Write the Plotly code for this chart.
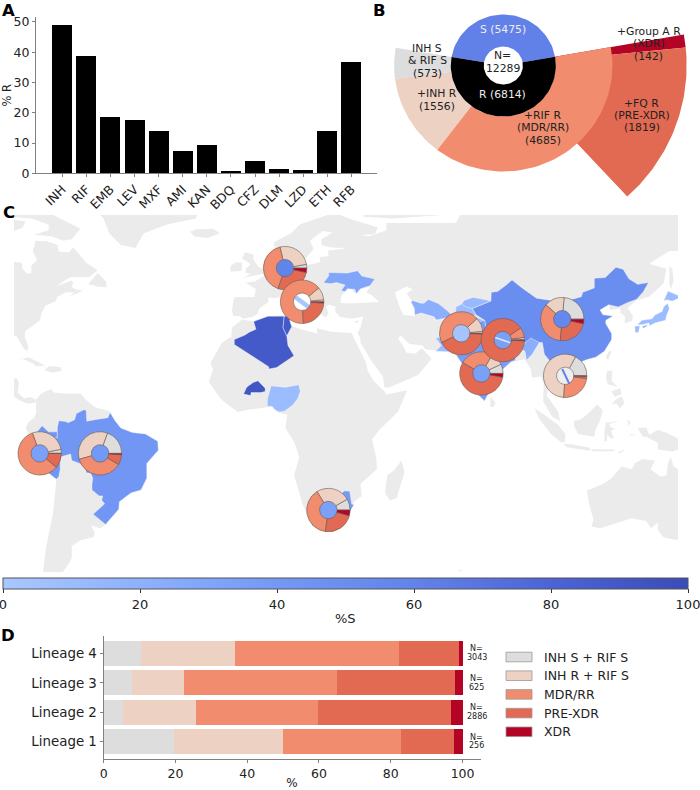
"""TB drug resistance overview: bars, sunburst, world map with donuts, lineage bars."""

import numpy as np
import plotly.graph_objects as go

FONT = "DejaVu Sans"
TEXT = "#222222"
AXIS = "#808080"
W, H = 700, 790

# panel A
drugs = ["INH", "RIF", "EMB", "LEV", "MXF", "AMI", "KAN", "BDQ", "CFZ", "DLM", "LZD", "ETH", "RFB"]
pct_r = [49, 38.7, 18.5, 17.5, 14, 7.3, 9.2, 0.9, 4.2, 1.5, 1.2, 14.1, 36.7]

# panel B
n_total = 12289
n_s, n_r = 5475, 6814
n_ring = [573, 1556, 4685]
n_pre, n_xdr = 1819, 142

# shared categories
classes = ["INH S + RIF S", "INH R + RIF S", "MDR/RR", "PRE-XDR", "XDR"]
class_colors = ["#dddddd", "#edd1c2", "#f18c6e", "#e26952", "#b40426"]

# panel D
lineages = ["Lineage 1", "Lineage 2", "Lineage 3", "Lineage 4"]
lineage_n = ["256", "2886", "625", "3043"]
lineage_pct = [
    [19.5, 5.5, 7.8, 10.4],
    [30.5, 20.2, 14.6, 26.2],
    [32.8, 34.0, 42.6, 45.7],
    [14.8, 37.2, 33.0, 16.7],
    [2.4, 3.1, 2.0, 1.0],
]

# panel C, colour scale for %S
scale_stops = [
    [0.0, "#a9c7ff"], [0.2, "#8eb1fe"], [0.4, "#7399f5"],
    [0.6, "#6283ea"], [0.8, "#4c64d5"], [1.0, "#3a4cb8"],
]

# land outlines, lon/lat
north_america = [(-100, 72), (-95, 72), (-92, 70), (-88, 68.5), (-85, 69.5), (-81, 69), (-82, 67), (-87, 65), (-90, 63.5), (-94, 61), (-94.5, 58.8), (-92.5, 57), (-88, 56.5), (-85, 55.3), (-82.3, 55), (-82, 53), (-80.5, 51.3), (-79, 51.5), (-79, 54), (-77, 56), (-78.5, 58.8), (-77.5, 62.5), (-73.5, 62.3), (-70, 61), (-69.5, 58.8), (-66, 58.5), (-64.5, 60.3), (-62, 57.5), (-60, 55), (-56, 52.5), (-59, 50.2), (-65, 50.2), (-67, 49.3), (-70, 47.2), (-65, 49), (-64.5, 48), (-65, 47), (-64, 46), (-61, 45.5), (-66, 43.5), (-64, 44.9), (-67, 45), (-70, 43.5), (-70.5, 42), (-74, 40.5), (-75.5, 38), (-76, 35.5), (-78, 34), (-81, 32), (-81.3, 30), (-80, 26.5), (-80.5, 25), (-81.8, 26), (-82.8, 28), (-84, 30), (-86, 30.3), (-89, 30.2), (-95, 25), (-95, 18), (-88, 18), (-88.5, 16), (-84, 15.8), (-83.3, 14.5), (-83.7, 11), (-81.5, 9), (-79.5, 9.5), (-77.3, 8.6), (-78, 7.5), (-80.5, 7.3), (-83, 8.3), (-85.5, 10), (-95, 13)]
baffin = [(-95, 75), (-80, 73.7), (-72, 71.5), (-67, 69), (-62, 66.5), (-65, 63), (-68, 62.5), (-72, 64), (-78, 64.5), (-73, 66), (-73, 68), (-79, 70), (-85, 70.5), (-95, 72)]
newfoundland = [(-59.3, 47.7), (-56, 51.5), (-53, 48.5), (-53, 46.7), (-56, 47)]
greenland = [(-73, 78), (-60, 82), (-30, 83), (-20, 75), (-22, 70), (-32, 68), (-40, 65), (-43, 60), (-48, 61), (-52, 65), (-54, 70), (-60, 76)]
iceland = [(-24, 65.5), (-22, 66.4), (-16, 66.5), (-13.7, 65), (-18, 63.4), (-22.5, 63.9)]
cuba = [(-85, 22), (-80, 23), (-74.2, 20.2), (-77.5, 19.9), (-78, 20.7), (-82, 22.5)]
hispaniola = [(-74.4, 18.5), (-73, 19.9), (-69, 19.7), (-68.4, 18.5), (-71.5, 17.7)]
south_america = [(-77.3, 8.6), (-75.5, 10.8), (-72, 12.2), (-71.3, 11), (-68, 10.7), (-62, 10.7), (-60, 8.5), (-57, 6), (-52, 4.8), (-50, 1.5), (-48, -1), (-44, -2.5), (-39.5, -3), (-35.2, -5.5), (-35, -8.5), (-39, -13), (-39, -18), (-41, -22), (-44.5, -23), (-48.5, -26), (-48.7, -28.5), (-53.3, -33.7), (-55, -35), (-58.3, -34), (-57, -36.5), (-57.5, -38), (-62, -39), (-65, -41), (-65, -45), (-66, -47), (-69, -51), (-69, -55), (-72, -53), (-75, -50), (-74, -42), (-73, -37), (-71.5, -30), (-70.3, -18.4), (-76, -14), (-81, -6), (-80, -3), (-81, -1), (-80, 1), (-78, 2.5), (-77.3, 4), (-77.5, 7.5)]
africa = [(-6, 35.8), (-2, 35.1), (3, 36.9), (10, 37.3), (10.3, 33.8), (15, 32.3), (20, 31), (20, 32.8), (25, 31.6), (32, 31.2), (32.5, 29.9), (34, 27), (37, 21), (37.5, 18.5), (39.5, 15), (43.3, 11.5), (44, 10.4), (51.2, 11.8), (48, 4.5), (41.5, -1.7), (39, -5), (40.5, -11), (40.7, -15), (35, -20), (35.5, -24), (32.8, -26), (31, -30), (27, -34), (20, -34.8), (18.3, -34), (15, -27), (12, -17), (13.8, -11), (12.2, -6), (9, -1), (9.7, 3.5), (6, 4.4), (4.5, 6.3), (1, 5.9), (-4, 5.2), (-7.5, 4.4), (-13, 8.5), (-15, 11), (-17.5, 14.7), (-16, 19), (-17, 21), (-13, 27.8), (-9.7, 30), (-9.5, 33)]
madagascar = [(49.2, -12), (50.3, -16), (47.5, -24.8), (45.2, -25.5), (43.5, -23), (44.3, -17), (46.5, -15.5)]
eurasia = [(-9, 37), (-9.5, 38.7), (-8.8, 43.3), (-1.8, 43.4), (-1.2, 46), (-4.7, 48.2), (-1.5, 48.7), (1.5, 50.5), (4, 52), (6, 53.5), (8.6, 54), (8.2, 57), (10.5, 57.6), (10, 55), (11, 54), (14, 54), (18.5, 54.6), (21, 55.3), (21, 57), (24, 57.2), (23.7, 59.2), (28, 59.6), (30, 60), (25, 60.2), (21.5, 61), (21.5, 63), (25.3, 65.3), (22, 65.8), (17.5, 62.5), (18.8, 59.8), (16.5, 57), (14.3, 55.5), (13, 55.5), (11, 59), (8, 58), (5.3, 59), (5, 62), (11, 65), (14, 68), (20, 70), (26, 72), (31, 70), (41, 67), (40, 64.8), (35, 64.3), (38, 64), (44, 66), (44, 68.5), (54, 68.5), (68, 68.5), (70, 72), (100, 78), (180, 69), (170, 60), (163, 60), (162, 56), (156.5, 51), (155.5, 57), (163, 62), (155, 59), (142, 59), (135, 54.7), (141, 53), (140, 48), (135, 43.5), (130.7, 42.3), (127.5, 39.8), (129.4, 37), (129, 35.2), (126.5, 34.5), (126.6, 37), (125, 38), (125, 39.6), (121.5, 39), (121, 40.8), (118, 39), (119, 37.4), (122.5, 37), (120, 35.5), (120, 34.3), (122, 31), (122, 29), (119.5, 25), (116.5, 23), (113.5, 22.2), (110.5, 21), (108, 21.6), (106, 20), (106, 18.5), (109, 15), (109, 11.5), (105, 8.7), (105, 10), (103, 11), (100.5, 13.5), (99.5, 10), (103.5, 4.5), (104.2, 1.4), (101.5, 2.7), (98.3, 8), (98.5, 14), (97.5, 16.5), (94.5, 16), (94, 19), (91.8, 22.3), (89, 21.8), (87, 21.3), (85, 19.5), (80.3, 15), (80, 12), (78, 8.2), (76, 10), (73, 18), (72.7, 21), (70, 21), (69, 22.5), (67, 24.8), (62, 25.2), (57.5, 25.7), (56.5, 27), (52, 27.5), (49, 30.3), (48, 29.5), (50, 26.5), (51, 24.5), (54, 24.2), (56.3, 26), (58.7, 23.5), (59.7, 22.5), (55, 17), (52, 15.7), (45, 12.8), (43.3, 12.7), (42.8, 16.5), (39, 21.5), (35, 28), (34.9, 29.5), (34, 31.3), (35, 33), (36, 36.8), (32, 36), (28, 36.6), (26.3, 38.5), (26.3, 40.3), (24, 40.8), (23, 40), (24, 38), (23, 36.5), (21.5, 37.5), (19.5, 41), (18.5, 42.5), (14.5, 45.2), (12.5, 45.5), (12.3, 44.3), (16, 41.8), (18.4, 40.2), (17, 40.5), (16.5, 39), (15.8, 38), (15.5, 40), (12.2, 41.8), (10.3, 43.5), (8.5, 44.3), (6, 43), (3, 43.2), (3.2, 41.8), (0, 39.5), (-0.5, 38), (-2, 36.8), (-5.5, 36), (-7, 37)]
arctic_edge = [(36, 72), (36, 70.6), (46, 70), (60, 71), (75, 72)]
britain = [(-5.5, 50), (1.5, 51.3), (1.7, 52.8), (-0.2, 53.5), (-2, 56), (-2, 57.7), (-5, 58.6), (-6, 56.5), (-3, 54.5), (-4.5, 53.2), (-5, 51.7), (-3, 51.3)]
ireland = [(-10, 52), (-6.2, 52.2), (-6, 55), (-8.2, 55.2), (-10, 54)]
sicily = [(12.5, 38), (15.5, 38.2), (15, 36.7)]
sardinia = [(8.3, 41), (9.7, 41), (9.6, 39), (8.5, 39)]
cyprus = [(32.5, 35), (34.5, 35.5), (34, 34.7)]
sri_lanka = [(80, 9.7), (81.8, 7.5), (81, 6), (80, 6.2)]
sakhalin = [(142, 54), (143, 53), (143.5, 49), (142.5, 46), (142, 48)]
taiwan = [(121, 25), (122, 25), (120.8, 22), (120, 23)]
hainan = [(109, 20), (111, 20), (110, 18.3), (108.7, 18.7)]
luzon = [(120.5, 18.5), (122.3, 18.3), (122, 15), (124, 13), (120.7, 13.8), (120, 16)]
visayas = [(122, 11.5), (125, 12.5), (125.5, 10.5), (123, 9.5)]
mindanao = [(122, 7), (123.5, 8.7), (125.5, 9.8), (126.5, 7.5), (125, 5.7), (123.5, 7.4)]
sumatra = [(95.3, 5.6), (98, 4), (103.5, 0), (106, -3), (105.8, -5.8), (104.5, -5.8), (101, -3), (97, 2)]
java = [(105.3, -6.3), (108.5, -6.6), (114.5, -7.7), (114.5, -8.7), (106.5, -7.5)]
sunda = [(115, -8.2), (119, -8.3), (123, -8.3), (123, -8.8), (119, -9), (115, -8.8)]
timor = [(124, -10), (127, -8.4), (125, -8.8)]
borneo = [(109, 1.5), (111, 1.7), (113, 3.2), (117, 7), (119, 5), (117.8, 1), (116.5, -1.5), (116, -4), (110.5, -3), (109, -0.5)]
sulawesi = [(119.5, -5.5), (119.5, -2.8), (120, 0.8), (124.8, 1.5), (121, 0.4), (122, -1), (123.3, -1), (121.8, -2), (122.8, -4.5), (121.5, -4.5), (120.5, -3), (120.4, -5.5)]
halmahera = [(127.5, 2), (128.5, 1), (127.8, -0.5)]
seram = [(128, -3), (130.5, -3.2), (129, -3.5)]
new_guinea = [(131, -1), (134, -0.8), (135, -3.3), (138, -1.7), (141, -2.6), (145, -4.5), (148, -6), (150, -10), (146, -8), (143, -9), (138, -8.3), (138, -6), (134, -4), (132.8, -4)]
australia = [(113.5, -22), (114, -26), (115.7, -32), (115, -34.4), (118, -35), (124, -33), (129, -31.6), (134, -32.5), (135.7, -35), (138, -33), (138, -35.5), (140, -38), (143.5, -38.8), (146.4, -39), (150, -37.5), (153, -32), (153.5, -25), (149, -20.5), (146, -18), (145, -15), (143.5, -14), (142.5, -10.8), (141.5, -13), (141, -17), (139, -17.5), (135.5, -15), (137, -12), (132.5, -11.5), (130, -13), (129, -15), (125.5, -14), (122, -18), (119, -20), (114.5, -21.8)]
kerguelen = [(69, -49), (70.5, -49.2), (69.5, -49.7)]

land = [north_america, baffin, newfoundland, greenland, iceland, cuba, hispaniola, south_america, africa,
        madagascar, eurasia, arctic_edge, britain, ireland, sicily, sardinia, cyprus, sri_lanka, sakhalin,
        taiwan, hainan, luzon, visayas, mindanao, sumatra, java, sunda, timor, borneo, sulawesi, halmahera,
        seram, new_guinea, australia, kerguelen]

black_sea = [(28, 41.5), (31, 41.2), (36, 41.5), (41.5, 41.7), (39, 44), (37, 45), (38.5, 47), (35, 46), (33.5, 44.5), (31, 46.5), (28.5, 44)]
caspian = [(47, 45), (51, 47), (53, 46), (51, 44.5), (53, 42), (54, 37), (50, 37.3), (49, 39), (47.5, 43)]
seas = [black_sea, caspian]

# sampled countries with their %S
ukraine = [(22.2, 48.2), (24, 50.5), (24, 51.7), (30.5, 51.5), (34, 52.3), (35.5, 50.5), (40, 49.5), (38.3, 47.2), (35, 46.2), (33.6, 44.5), (33, 46), (30.5, 46.2), (29.7, 45.3), (28.3, 45.5), (29.7, 47.5), (26.7, 48.3), (24.5, 47.9)]
algeria = [(-8.7, 27.3), (-8.7, 29), (-5, 30.5), (-3.5, 31.5), (-1.2, 32.5), (-2, 35.1), (3, 36.9), (8.6, 36.9), (8.2, 33), (9.5, 30.2), (9.9, 27), (12, 23.5), (6, 19.5), (3.3, 19), (3.2, 19.8), (-4.8, 25)]
tunisia = [(8.6, 36.9), (11, 37), (10.5, 35.5), (11.2, 33.3), (10.3, 31.7), (9.5, 30.2), (8.2, 33)]
burkina_faso = [(-5.5, 10.5), (-4.4, 12.8), (-3.5, 13.5), (-2, 14.5), (-0.5, 15), (2, 12.5), (2, 11.4), (0.5, 11), (-2.9, 11), (-3, 10)]
nigeria = [(2.7, 6.4), (2.8, 9), (3.6, 11.7), (4, 13.3), (7, 13), (9, 12.8), (13.6, 13.7), (14.2, 11.5), (13.3, 9), (11.5, 6.7), (8.7, 4.7), (7, 4.4), (5.4, 5.2), (4.4, 6.3)]
south_africa = [(16.5, -28.6), (20, -28.4), (20, -25), (23, -25.3), (26.8, -24.8), (29.4, -22.3), (31.3, -22.4), (32, -26.8), (32.8, -26.9), (31, -30), (27, -34), (20, -34.8), (18.3, -34)]
peru = [(-81, -4.5), (-80.2, -3.4), (-78, -3.5), (-75.3, -0.2), (-73, -2.3), (-70, -2.3), (-70, -4.3), (-73, -5), (-73.5, -8.5), (-70.6, -11), (-69, -11), (-69, -15), (-69.5, -17.5), (-70.3, -18.4), (-76, -14), (-81, -6)]
brazil = [(-51.7, 4.3), (-50, 1.5), (-48, -1), (-44, -2.5), (-39.5, -3), (-35.2, -5.5), (-35, -8.5), (-39, -13), (-39, -18), (-41, -22), (-44.5, -23), (-48.5, -26), (-48.7, -28.5), (-53.3, -33.7), (-57.6, -30.2), (-53.6, -26.7), (-54.6, -25.5), (-54.3, -24), (-55.5, -24), (-58, -22), (-58, -20), (-57.7, -18), (-58.4, -16.3), (-60, -16.2), (-60.5, -13.7), (-65, -12), (-65.4, -9.8), (-69.5, -11), (-73.8, -9), (-73, -5), (-70, -4.3), (-70, -1), (-69.5, 1.5), (-67, 1.2), (-66.3, 0.8), (-64, 1.8), (-63.4, 3.9), (-60.8, 5.2), (-60, 5), (-59.8, 1.3), (-56.5, 1.9), (-54, 2.3), (-52.5, 2.5)]
china = [(73.7, 39.5), (76, 40.4), (80.2, 42.1), (80.3, 45), (82.5, 45.3), (85.5, 47.5), (87.5, 49.2), (91, 46.5), (96, 43), (105, 41.7), (111.5, 43.5), (112, 45), (116, 46.5), (116, 49.8), (119.8, 50), (123.5, 53.5), (126, 52.8), (128, 49.6), (131, 47.7), (134.8, 48.3), (133, 45.2), (131, 43), (130.5, 42.6), (127.5, 41.5), (124.3, 40), (121, 40.8), (118, 39), (119, 37.4), (122.5, 37), (120, 35.5), (120, 34.3), (122, 31), (122, 29), (119.5, 25), (116.5, 23), (113.5, 22.2), (110.5, 21), (108, 21.6), (106, 22.8), (102, 22.4), (101, 21.2), (98.7, 24), (98, 28), (92, 27.8), (88, 28), (81, 30.2), (78.8, 31.5), (78, 35.5), (75, 37.4)]
turkmenistan = [(52.5, 41.7), (53, 42.2), (56, 41.3), (57, 41.3), (58.5, 42.6), (60, 42), (62, 41.2), (65, 38.8), (66.6, 37.4), (64.5, 36.3), (61.3, 35.6), (60.5, 36.7), (56, 38), (53.8, 37.3), (53.7, 39.5)]
kyrgyzstan = [(69.3, 40), (71, 42.3), (74, 43.3), (80.2, 42.1), (76, 40.4), (73.7, 39.5), (70, 39.5)]
tajikistan = [(68, 40), (70, 41), (72, 39.9), (73.7, 39.5), (75, 37.4), (71.5, 36.8), (70, 37.8), (68, 37)]
pakistan = [(61, 25), (67, 24.8), (68.5, 23.8), (71, 24.5), (70, 28), (74.5, 31), (75, 34), (77.8, 35.5), (74, 37), (71.5, 36.5), (70, 33.5), (66.5, 30.5), (61, 29.5), (63, 27)]
india = [(68.2, 23.7), (70, 21), (72.7, 21), (73, 18), (76, 10), (78, 8.2), (80, 12), (80.3, 15), (85, 19.5), (87, 21.3), (88.7, 22), (88.3, 26.4), (80, 28.5), (81, 30.2), (78.8, 31.5), (78, 35.5), (74, 34.5), (74.5, 31), (70, 28), (71, 24.5)]
northeast_india = [(92.5, 22), (94.5, 24), (97, 28), (94, 29.5), (91.5, 27.5), (90, 26), (92, 25)]
honshu = [(130.9, 34), (132.5, 35.5), (136, 36), (137, 37.3), (139.5, 38.5), (140, 40), (141.4, 41.3), (142, 39.5), (141, 37), (140.7, 35.5), (137, 34.6), (135, 33.6), (135, 34.6), (132.5, 34)]
hokkaido = [(140, 42), (141.5, 45.4), (145, 44), (145.3, 43), (143, 42), (141, 42.5)]
kyushu = [(130, 33.5), (131.8, 33.7), (131.3, 31.4), (130.2, 31.3)]
shikoku = [(132.5, 33.5), (134.5, 34.2), (134, 33.3), (133, 32.7)]

countries = [ukraine, algeria, tunisia, burkina_faso, nigeria, south_africa, peru, brazil, china, turkmenistan,
             kyrgyzstan, tajikistan, pakistan, india, northeast_india, honshu, hokkaido, kyushu, shikoku]
country_pct_s = [30, 88, 88, 92, 10, 38, 42, 42, 50, 22, 12, 10, 10, 36, 22, 10, 10, 10, 10]

# donuts: centre lon/lat, class shares in %, centre colour
pie_lon = [8.9, 14.8, 76.9, 69.9, 84.3, 104.9, 105.9, -76.1, -55.2, 23.9]
pie_lat = [53.2, 41.8, 17.5, 31.1, 28.8, 35.9, 16.7, -9.6, -9.6, -28.8]
pie_shares = [
    [2.8, 26, 41, 27, 3.2],
    [1.5, 9.5, 65, 23, 1],
    [7, 9.7, 25, 55.5, 2.8],
    [1.5, 10.5, 45, 42.5, 0.5],
    [0.5, 1.5, 7.5, 90, 0.5],
    [23.6, 15, 35, 23, 3.4],
    [17, 57, 24, 1.5, 0.5],
    [3, 27.5, 58.5, 11, 0],
    [19.4, 35, 37, 7.6, 1],
    [8.3, 25.5, 39, 23, 4.2],
]
pie_centre = ["#5f84ea", "#ffffff", "#7aa0f8", "#a5c4ff", "#7aa0f6", "#6488ee", "#eeeeee", "#7aa0f8", "#7199f6", "#7aa0f8"]
# streaks of the map seen through three of the holes
streak_pie = [1, 4, 6]
streak_dlon = [[-2.4, 2.4], [-2.6, 2.6], [-1.0, 1.4]]
streak_dlat = [[1.6, -1.9], [0.9, -0.9], [2.3, -2.6]]
streak_color = ["#a9c7ff", "#dce8ff", "#5f84ea"]
streak_width = [4.5, 1.5, 2]

# map frame
LON = [-85, 145]
LAT = [-49.8, 71.2]
MAP_BOX = [14, 678, 215, 572]
PIE_R = 21.7


def px_x(x):
    return x / W


def px_y(y):
    return 1 - y / H


def hex_rgb(c):
    return np.array([int(c[i:i + 2], 16) for i in (1, 3, 5)], dtype=float)


def scale_color(v):
    """%S to colour, same stops as the colour bar."""
    t = v / 100
    pos = [s[0] for s in scale_stops]
    rgb = [np.interp(t, pos, [hex_rgb(s[1])[k] for s in scale_stops]) for k in range(3)]
    return "rgb(%d,%d,%d)" % tuple(rgb)


def poly_xy(polys):
    xs, ys = [], []
    for p in polys:
        xs += [q[0] for q in p] + [p[0][0], None]
        ys += [q[1] for q in p] + [p[0][1], None]
    return xs, ys


def wedge(t0, t1, r0, r1):
    t = np.radians(np.linspace(t0, t1, 60))
    x = np.r_[r1 * np.cos(t), r0 * np.cos(t[::-1])]
    y = np.r_[r1 * np.sin(t), r0 * np.sin(t[::-1])]
    return x, y


fig = go.Figure()

# A
fig.add_trace(go.Bar(x=drugs, y=pct_r, marker=dict(color="black", line=dict(width=0)), width=0.83,
                     xaxis="x", yaxis="y", showlegend=False))

# B, angles come from the counts
START = 10
s_end = START + 360 * n_s / n_total
r_span = 360 * n_r / n_total
ring_ends = s_end + np.cumsum(n_ring) / n_r * r_span
ring_starts = np.r_[s_end, ring_ends[:-1]]
rif_span = ring_ends[2] - ring_starts[2]
xdr_start = ring_ends[2] - rif_span * n_xdr / n_ring[2]
pre_start = xdr_start - rif_span * n_pre / n_ring[2]

R_HOLE, R_CORE, R_RING, R_OUT = 19, 51, 106, 178
b_wedges = [
    (xdr_start, ring_ends[2], R_CORE, R_OUT, class_colors[4]),
    (pre_start, xdr_start, R_CORE, R_OUT, class_colors[3]),
    (ring_starts[0], ring_ends[0], R_CORE, R_RING, class_colors[0]),
    (ring_starts[1], ring_ends[1], R_CORE, R_RING, class_colors[1]),
    (ring_starts[2], ring_ends[2], R_CORE, R_RING, class_colors[2]),
    (START, s_end, R_HOLE, R_CORE, "#6281e8"),
    (s_end, START + 360, R_HOLE, R_CORE, "black"),
]
for t0, t1, r0, r1, col in b_wedges:
    wx, wy = wedge(t0, t1, r0, r1)
    fig.add_trace(go.Scatter(x=wx, y=wy, mode="lines", fill="toself", fillcolor=col, line=dict(width=0),
                             xaxis="x2", yaxis="y2", showlegend=False, hoverinfo="skip"))

# C
lx, ly = poly_xy(land)
fig.add_trace(go.Scatter(x=lx, y=ly, mode="lines", fill="toself", fillcolor="#ebebeb", line=dict(width=0),
                         xaxis="x3", yaxis="y3", showlegend=False, hoverinfo="skip"))
sx, sy = poly_xy(seas)
fig.add_trace(go.Scatter(x=sx, y=sy, mode="lines", fill="toself", fillcolor="white", line=dict(width=0),
                         xaxis="x3", yaxis="y3", showlegend=False, hoverinfo="skip"))
for poly, pct in zip(countries, country_pct_s):
    cx, cy = poly_xy([poly])
    fig.add_trace(go.Scatter(x=cx, y=cy, mode="lines", fill="toself", fillcolor=scale_color(pct),
                             line=dict(width=0.4, color="white"),
                             xaxis="x3", yaxis="y3", showlegend=False, hoverinfo="skip"))

fig.add_trace(go.Scatter(x=pie_lon, y=pie_lat, mode="markers",
                         marker=dict(size=2 * PIE_R * 0.42, color=pie_centre, line=dict(width=0)),
                         xaxis="x3", yaxis="y3", showlegend=False, hoverinfo="skip"))
for i, idx in enumerate(streak_pie):
    fig.add_trace(go.Scatter(x=[pie_lon[idx] + d for d in streak_dlon[i]],
                             y=[pie_lat[idx] + d for d in streak_dlat[i]], mode="lines",
                             line=dict(color=streak_color[i], width=streak_width[i]),
                             xaxis="x3", yaxis="y3", showlegend=False, hoverinfo="skip"))

# colour bar carried by an invisible trace
fig.add_trace(go.Scatter(x=[0, 0], y=[0, 0], mode="markers", xaxis="x3", yaxis="y3", showlegend=False,
                         hoverinfo="skip",
                         marker=dict(size=1, opacity=0, color=[0, 100], cmin=0, cmax=100, colorscale=scale_stops,
                                     showscale=True,
                                     colorbar=dict(orientation="h", lenmode="pixels", len=685,
                                                   thicknessmode="pixels", thickness=11,
                                                   x=px_x(3), xanchor="left", y=px_y(578), yanchor="top",
                                                   xpad=0, ypad=0, outlinecolor="#555555", outlinewidth=1,
                                                   tickvals=[0, 20, 40, 60, 80, 100], ticks="outside", ticklen=4,
                                                   ticklabeloverflow="allow",
                                                   tickcolor="#333333", tickfont=dict(size=13, color=TEXT, family=FONT)))))

# donuts, drawn so the later ones sit on top; plotly measures rotation to the far edge of the first slice
x0, x1, y0, y1 = MAP_BOX
for lon, lat, shares in zip(pie_lon, pie_lat, pie_shares):
    cx = x0 + (lon - LON[0]) / (LON[1] - LON[0]) * (x1 - x0)
    cy = y1 - (lat - LAT[0]) / (LAT[1] - LAT[0]) * (y1 - y0)
    fig.add_trace(go.Pie(values=shares, labels=classes, sort=False, direction="counterclockwise",
                         rotation=90 - 360 * shares[0] / sum(shares),
                         hole=0.4, textinfo="none", hoverinfo="skip", showlegend=False,
                         marker=dict(colors=class_colors, line=dict(color="#6b5a55", width=0.6)),
                         domain=dict(x=[px_x(cx - PIE_R), px_x(cx + PIE_R)], y=[px_y(cy + PIE_R), px_y(cy - PIE_R)])))

# D
for name, vals, col in zip(classes, lineage_pct, class_colors):
    fig.add_trace(go.Bar(y=lineages, x=vals, name=name, orientation="h", width=0.85, showlegend=False,
                         marker=dict(color=col, line=dict(width=0)), xaxis="x4", yaxis="y4"))

# text
notes = []


def add_text(x, y, lines, size=10.8, color=TEXT, spacing=12.3, xanchor="center"):
    top = y - spacing * (len(lines) - 1) / 2
    for i, line in enumerate(lines):
        notes.append(dict(x=px_x(x), y=px_y(top + i * spacing), xref="paper", yref="paper", text=line,
                          showarrow=False, xanchor=xanchor, yanchor="middle",
                          font=dict(size=size, color=color, family=FONT)))


for letter, lx_, ly_ in [("A", 8, 11), ("B", 379, 11), ("C", 9, 212), ("D", 8, 635)]:
    add_text(lx_, ly_, ["<b>%s</b>" % letter], size=16.5, color="black")

add_text(427, 60.7, ["INH S", "& RIF S", "(573)"])
add_text(437, 100, ["+INH R", "(1556)"])
add_text(503, 62, ["N=", "12289"])
add_text(502.7, 30, ["S (%d)" % n_s], color="#eeeeee")
add_text(502.7, 95, ["R (%d)" % n_r], color="#eeeeee")
add_text(542.7, 128, ["+RIF R", "(MDR/RR)", "(4685)"])
add_text(641.7, 115.3, ["+FQ R", "(PRE-XDR)", "(%d)" % n_pre])
add_text(648.7, 44, ["+Group A R", "(XDR)", "(%d)" % n_xdr])
add_text(345, 618, ["%S"], size=13)

# N= labels beside the lineage bars
for i, n in enumerate(lineage_n):
    add_text(477, 741.5 - i * 29.4, ["N=", n], size=8, spacing=8.7)

# legend of panel D as rectangles and labels
shapes = []
for i, (name, col) in enumerate(zip(classes, class_colors)):
    top = 652.2 + i * 18.7
    shapes.append(dict(type="rect", xref="paper", yref="paper", x0=px_x(506), x1=px_x(532),
                       y0=px_y(top + 9.6), y1=px_y(top), fillcolor=col, line=dict(color="#999999", width=0.8)))
    add_text(541.5, top + 4.8, [name], size=12.5, xanchor="left")

tick = dict(showgrid=False, zeroline=False, showline=True, linecolor=AXIS, linewidth=1, ticks="outside", ticklen=3,
            tickcolor=AXIS, tickfont=dict(size=12.5, color=TEXT, family=FONT))
hidden = dict(visible=False, fixedrange=True)

fig.update_layout(
    width=W, height=H, autosize=False, paper_bgcolor="white", plot_bgcolor="rgba(0,0,0,0)",
    margin=dict(l=0, r=0, t=0, b=0, pad=0, autoexpand=False), barmode="stack", showlegend=False,
    font=dict(family=FONT, color=TEXT), annotations=notes, shapes=shapes,
    xaxis=dict(domain=[px_x(36), px_x(377)], anchor="y", range=[-1.09, 13.06], tickangle=-45, **tick),
    yaxis=dict(domain=[px_y(173.3), px_y(17.3)], anchor="x", range=[0, 51.5], tickvals=[0, 10, 20, 30, 40, 50],
               title=dict(text="% R", font=dict(size=11.5, color=TEXT, family=FONT), standoff=1), **tick),
    xaxis2=dict(domain=[px_x(350), px_x(700)], anchor="y2", range=[-(503.3 - 350) / 1.03, (700 - 503.3) / 1.03], **hidden),
    yaxis2=dict(domain=[px_y(205), px_y(0)], anchor="x2", range=[-(205 - 65.5), 65.5], **hidden),
    xaxis3=dict(domain=[px_x(x0), px_x(x1)], anchor="y3", range=LON, **hidden),
    yaxis3=dict(domain=[px_y(y1), px_y(y0)], anchor="x3", range=LAT, **hidden),
    xaxis4=dict(domain=[px_x(103.6), px_x(480.5)], anchor="y4", range=[0, 105], tickvals=[0, 20, 40, 60, 80, 100],
                title=dict(text="%", font=dict(size=12, color=TEXT, family=FONT), standoff=3), **tick),
    yaxis4=dict(domain=[px_y(759.3), px_y(636)], anchor="x4", range=[-0.6, 3.6], categoryorder="array",
                categoryarray=lineages, **{**tick, "tickfont": dict(size=13.4, color=TEXT, family=FONT)}),
)

fig.write_html("out.html", config={"displayModeBar": False},
               post_script="document.body.style.margin='0';document.body.style.overflow='hidden';")
